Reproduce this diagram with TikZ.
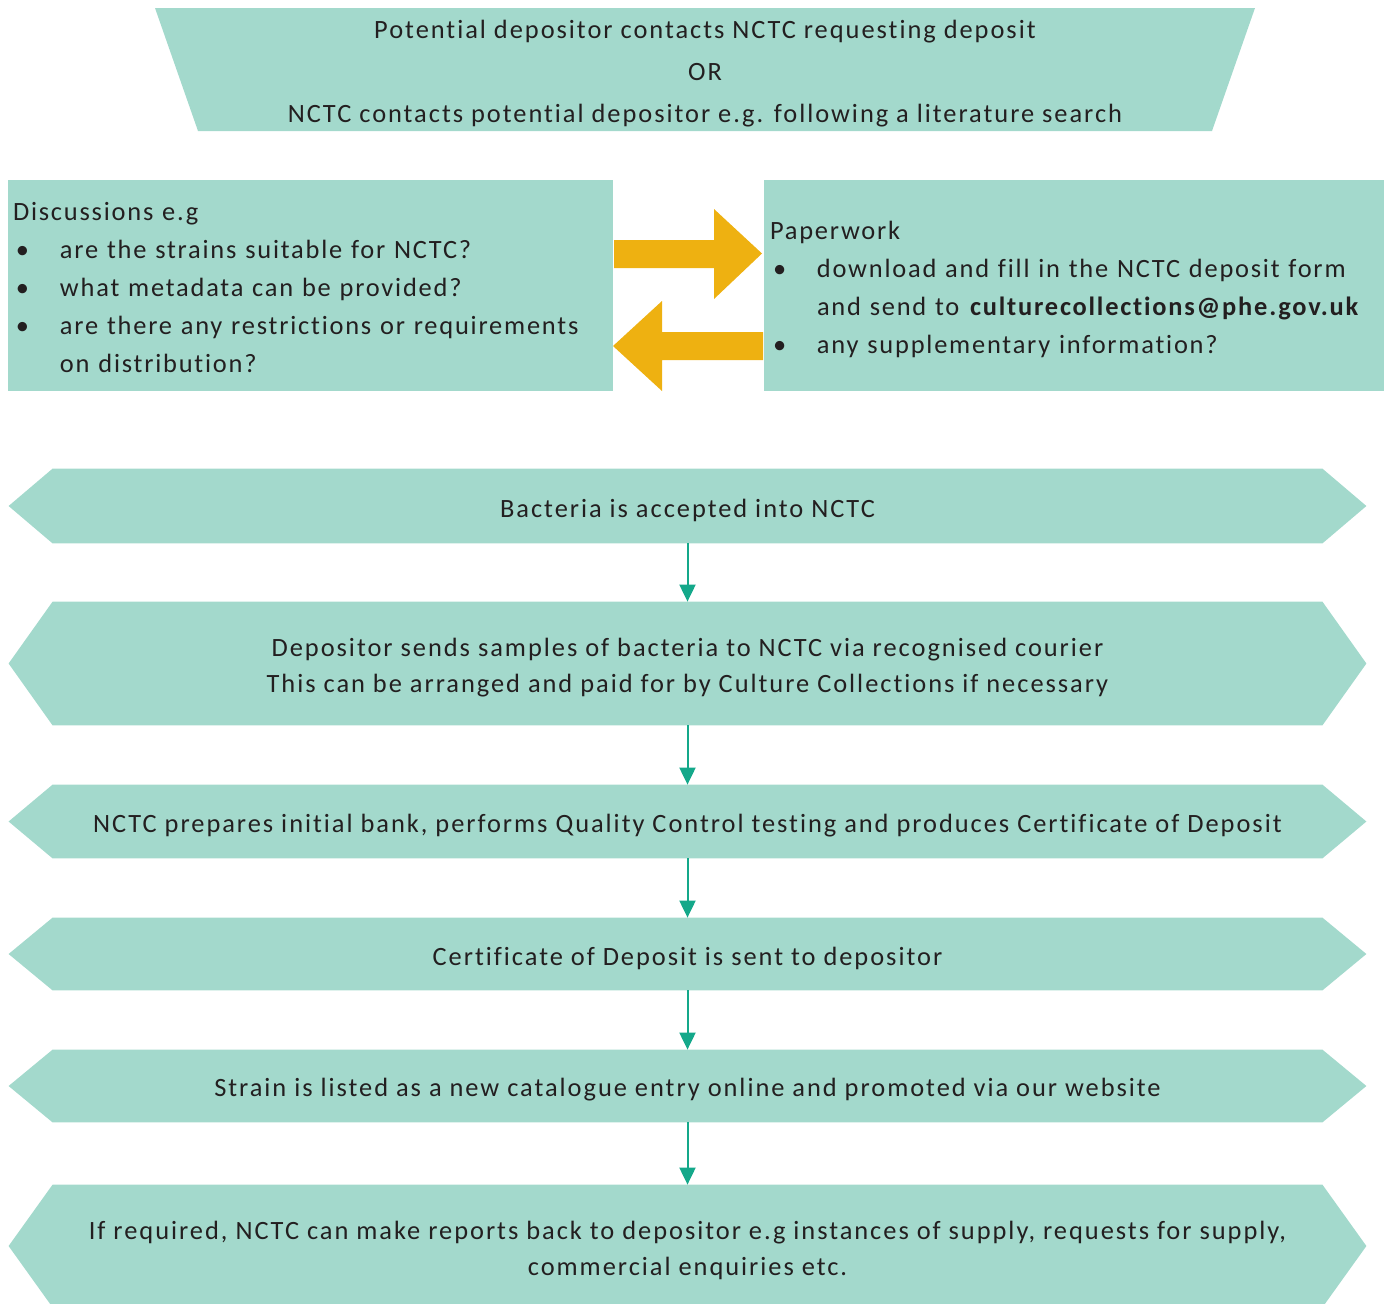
\documentclass[tikz,border=0pt]{standalone}
\usepackage{fontspec}
\setmainfont{Carlito}[LetterSpace=7.5, Ligatures=NoCommon]
\newfontfamily\boxfont{Carlito}[LetterSpace=6.8, Ligatures=NoCommon]
\usetikzlibrary{arrows.meta,backgrounds}
\definecolor{nctcteal}{HTML}{A3D9CC}
\definecolor{nctcgold}{HTML}{EEB111}
\definecolor{nctcarrow}{HTML}{14A88A}
\definecolor{nctctext}{HTML}{231F20}
\newcommand\bul{\makebox[23.5pt][l]{\hspace{1.5pt}\textbullet}}
\tikzset{
  infobox/.style={text width=#1, inner sep=0pt, align=left, text=nctctext,
    font=\boxfont\fontsize{13.2}{19}\selectfont},
  stage/.style={minimum width=678.5pt, minimum height=#1, inner sep=0pt, yshift=-2pt,
    align=center, text=nctctext, font=\fontsize{13.2}{18}\selectfont},
  flow/.style={draw=nctcarrow, line width=1pt, -{Triangle[width=8pt,length=8.5pt]}},
}

\begin{document}
\begin{tikzpicture}[x=0.5pt, y=-0.5pt]
  \useasboundingbox (0,0) rectangle (1388,1303);
  \fill[nctcteal] (155,8) -- (1255,8) -- (1212,131) -- (198,131) -- cycle;
  \node[align=center, text=nctctext, font=\fontsize{13.2}{21}\selectfont] (contact) at (705,74)
    {Potential depositor contacts NCTC requesting deposit\\OR\\NCTC contacts potential depositor e.g. following a literature search};

  \fill[nctcteal] (8,180) rectangle (613,391);
  \fill[nctcteal] (764,180) rectangle (1384,391);
  \node[infobox=300pt] (discuss) at (313,287.5)
    {Discussions e.g\\
     \bul are the strains suitable for NCTC?\\
     \bul what metadata can be provided?\\
     \bul are there any restrictions or requirements\\
     \hspace*{23.5pt}on distribution?};
  \node[infobox=306pt] (paperwork) at (1076,289)
    {Paperwork\\
     \bul download and fill in the NCTC deposit form\\
     \hspace*{23.5pt}and send to \textbf{culturecollections@phe.gov.uk}\\
     \bul any supplementary information?};
  \fill[nctcgold] (614,240) -- (714,240) -- (714,209) -- (762,253.5) -- (714,299) -- (714,268) -- (614,268) -- cycle;
  \fill[nctcgold] (763,332) -- (662,332) -- (662,301) -- (613,346) -- (662,391) -- (662,360) -- (763,360) -- cycle;

  \node[stage=37pt] (s1) at (687.5,506) {Bacteria is accepted into NCTC};
  \node[stage=61.5pt] (s2) at (687.5,663.5)
    {Depositor sends samples of bacteria to NCTC via recognised courier\\This can be arranged and paid for by Culture Collections if necessary};
  \node[stage=36.5pt] (s3) at (687.5,821.5)
    {NCTC prepares initial bank, performs Quality Control testing and produces Certificate of Deposit};
  \node[stage=36pt] (s4) at (687.5,954) {Certificate of Deposit is sent to depositor};
  \node[stage=36pt] (s5) at (687.5,1086)
    {Strain is listed as a new catalogue entry online and promoted via our website};
  \node[stage=61pt] (s6) at (687.5,1246)
    {If required, NCTC can make reports back to depositor e.g instances of supply, requests for supply,\\commercial enquiries etc.};

  \begin{scope}[on background layer]
    \foreach \i in {1,...,6}
      \fill[nctcteal] ([xshift=22pt,yshift=2pt]s\i.north west) -- ([xshift=-22pt,yshift=2pt]s\i.north east)
        -- ([yshift=2pt]s\i.east) -- ([xshift=-22pt,yshift=2pt]s\i.south east)
        -- ([xshift=22pt,yshift=2pt]s\i.south west) -- ([yshift=2pt]s\i.west) -- cycle;
  \end{scope}

  \foreach \i/\j in {1/2,2/3,3/4,4/5,5/6}
    \draw[flow] ([yshift=2pt]s\i.south) -- ([yshift=2pt]s\j.north);
\end{tikzpicture}
\end{document}
